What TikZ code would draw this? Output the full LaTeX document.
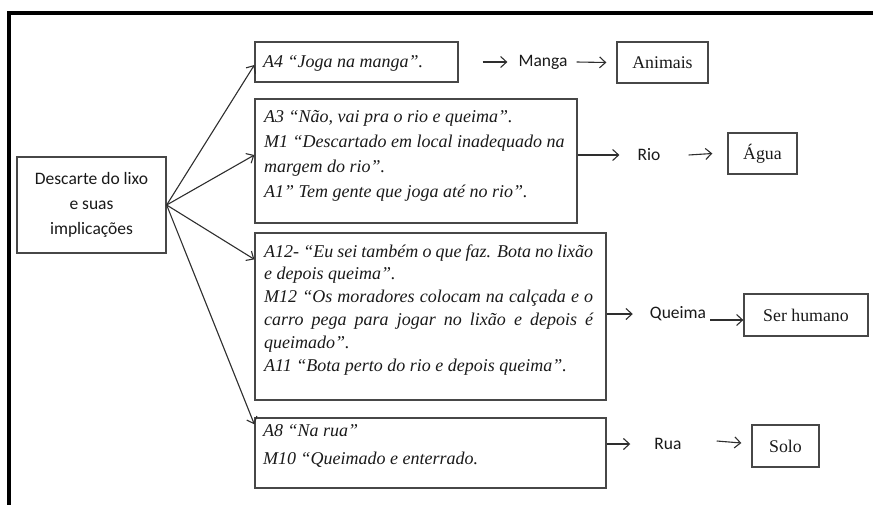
\documentclass[tikz,border=0pt]{standalone}
\usepackage{fontspec}
\setmainfont{Liberation Serif}
\newfontfamily\calib{Carlito}
\usetikzlibrary{arrows.meta,calc}

\begin{document}
\begin{tikzpicture}[x=1pt,y=-1pt,
  box/.style={draw=black!72, line width=1.3pt, inner sep=0pt},
  quote/.style={anchor=base west, inner sep=0pt, text=black!90},
  lbl/.style={inner sep=0pt, text=black!90, font=\calib\fontsize{17.5}{21}\selectfont},
  res/.style={box, text=black!90, font=\fontsize{17.8}{21}\selectfont},
  arr/.style={draw=black!82, line width=1.1pt, -{Straight Barb[length=6pt,width=11pt,line width=1.1pt]}},
]
\useasboundingbox (0,0) rectangle (873,504);
\draw[line width=4pt] (9,520) -- (9,13) -- (890,13);

\node[box, minimum width=149pt, minimum height=96pt, align=center, text=black!90,
      font=\calib\fontsize{17.5}{25}\selectfont] (c) at (91.5,205)
      {Descarte do lixo\\e suas\\implicações};

\node[box, minimum width=203pt, minimum height=40pt] (A4) at (356.5,62) {};
\node[quote, font=\fontsize{18}{25}\selectfont\itshape] (A4t) at (263,67) {A4 “Joga na manga”.};

\node[box, minimum width=322pt, minimum height=124pt] (A3) at (416,161) {};
\node[quote, font=\fontsize{18}{25}\selectfont\itshape] (A3t) at (264,122)
  {\parbox[t]{340pt}{\raggedright
   A3 “Não, vai pra o rio e queima”.\\
   M1 “Descartado em local inadequado na\\
   margem do rio”.\\
   A1” Tem gente que joga até no rio”.}};

\node[box, minimum width=351pt, minimum height=167pt] (A12) at (430.5,316.5) {};
\node[quote, font=\fontsize{18}{22.8}\selectfont\itshape] (A12t) at (264,257)
  {\parbox[t]{340pt}{\raggedright
   \makebox[329pt][s]{A12- “Eu sei também o que faz. Bota no lixão}\\
   e depois queima”.\\
   \makebox[329pt][s]{M12 “Os moradores colocam na calçada e o}\\
   \makebox[329pt][s]{carro pega para jogar no lixão e depois é}\\
   queimado”.\\
   A11 “Bota perto do rio e depois queima”.}};

\node[box, minimum width=351pt, minimum height=70pt] (A8) at (430.5,453) {};
\node[quote, font=\fontsize{18}{28}\selectfont\itshape] (A8t) at (263,436)
  {\parbox[t]{340pt}{\raggedright
   A8 “Na rua”\\
   M10 “Queimado e enterrado.}};

\node[res, minimum width=91pt, minimum height=41pt] (anim) at (662.5,62.5) {Animais};
\node[res, minimum width=69pt, minimum height=41pt] (agua) at (762.5,153.5) {Água};
\node[res, minimum width=124pt, minimum height=42pt] (ser) at (806,315) {Ser humano};
\node[res, minimum width=67pt, minimum height=42pt] (solo) at (785.5,446) {Solo};

\node[lbl] (manga) at (543,62) {Manga};
\node[lbl] (rio) at (649,155) {Rio};
\node[lbl] (queima) at (678,314) {Queima};
\node[lbl] (rua) at (668,444) {Rua};

\draw[arr] (c.east) -- ([yshift=-3pt]A4.west);
\draw[arr] (c.east) -- ([yshift=6pt]A3.west);
\draw[arr] (c.east) -- ([yshift=-27pt]A12.north west);
\draw[arr] (c.east) -- ([yshift=-7pt]A8.north west);

\draw[arr] ([xshift=24pt]A4.east) -- ([xshift=-11pt]manga.west);
\draw[arr] ([xshift=9pt]manga.east) -- ([xshift=-10pt]anim.west);
\draw[arr] (A3.east |- rio) -- ([xshift=-18pt]rio.west);
\draw[arr] ([xshift=28pt]rio.east) -- ([xshift=-15pt]agua.west);
\draw[arr] (A12.east |- queima) -- ([xshift=-17pt]queima.west);
\draw[arr] ([xshift=4pt,yshift=-6pt]queima.east) -- ([yshift=-5pt]ser.west);
\draw[arr] (A8.east |- rua) -- ([xshift=-24pt]rua.west);
\draw[arr] ([xshift=35pt,yshift=3pt]rua.east) -- ([xshift=-10pt,yshift=3pt]solo.west);
\end{tikzpicture}
\end{document}
